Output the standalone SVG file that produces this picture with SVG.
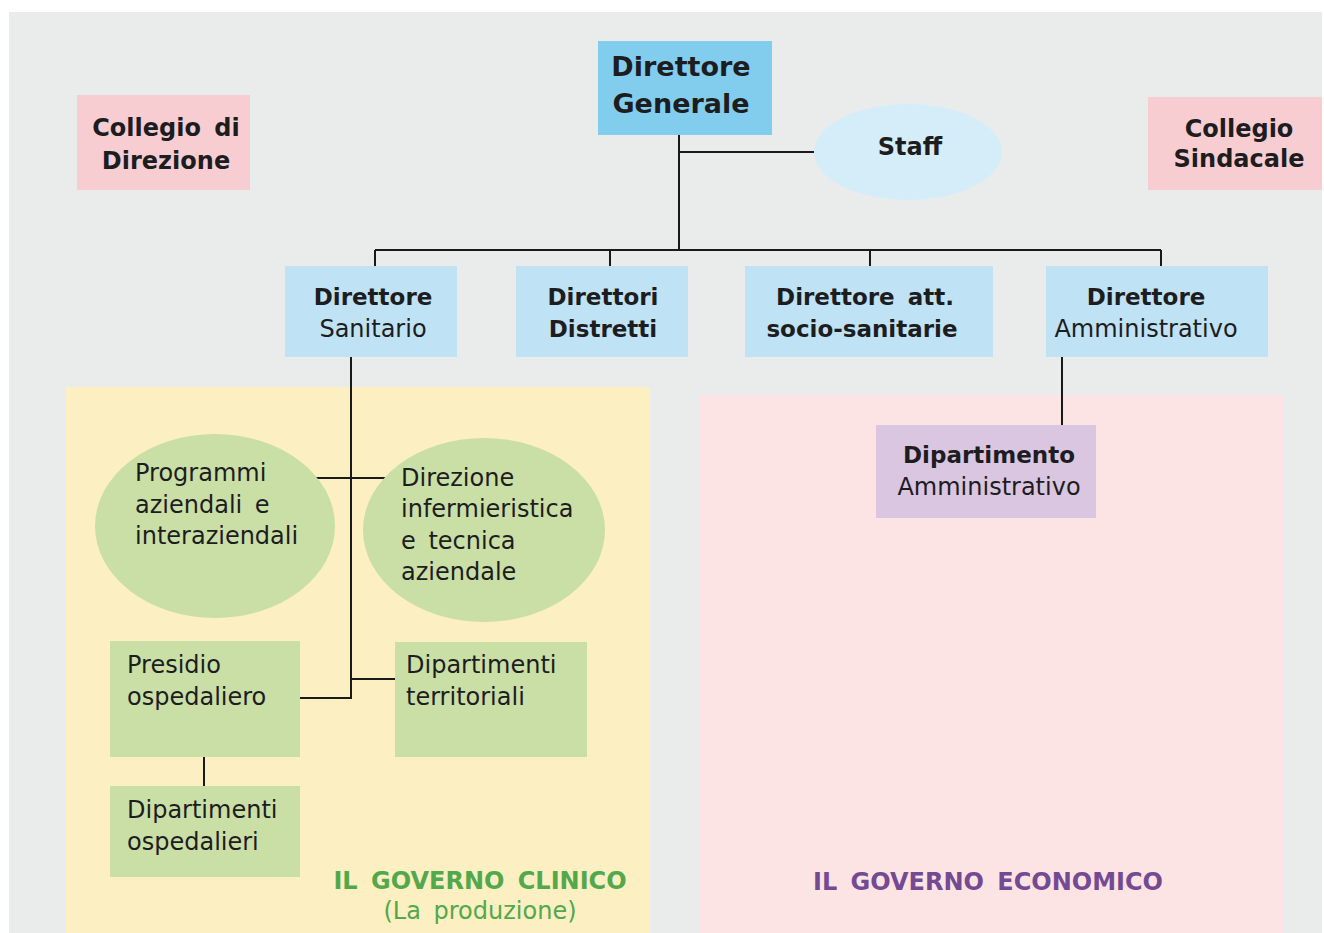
<svg xmlns="http://www.w3.org/2000/svg" width="1324" height="933" viewBox="0 0 1324 933">
<style>
text{font-family:"DejaVu Sans","Liberation Sans",sans-serif;fill:#1d1d1f;font-size:24px}
.b{font-weight:bold}
.c{text-anchor:middle}
.ws{word-spacing:5px}
.ln{stroke:#1a1a1a;stroke-width:2;fill:none}
.blue1{fill:#82cdee}
.blue2{fill:#bfe3f5}
.pink{fill:#f8cdd2}
.green{fill:#cadfa6}
</style>
<rect x="0" y="0" width="1324" height="933" fill="#ffffff"/>
<rect x="9" y="12" width="1313" height="921" fill="#eaeceb"/>
<g id="panel-clinico">
<rect x="66" y="387" width="584" height="546" fill="#fcefc2"/>
<text class="b c ws" x="480" y="889" style="fill:#52a84a">IL GOVERNO CLINICO</text>
<text class="c ws" x="480" y="919" style="fill:#52a84a">(La produzione)</text>
</g>
<g id="panel-economico">
<rect x="699" y="395" width="584" height="538" fill="#fde4e4"/>
<text class="b c ws" x="988" y="890" style="fill:#744a92">IL GOVERNO ECONOMICO</text>
</g>
<g id="connectors">
<path class="ln" d="M679 135V250M679 152H814M375 250H1161M375 250V266M610 250V266M870 250V266M1161 250V266"/>
<path class="ln" d="M351 357V698H300M351 679H395M314 478H388M1062 357V425M204 757V786"/>
</g>
<g id="collegio-direzione">
<rect x="77" y="95" width="173" height="95" class="pink"/>
<text class="b c ws" x="166" y="136">Collegio di</text>
<text class="b c" x="166" y="169">Direzione</text>
</g>
<g id="direttore-generale">
<rect x="598" y="41" width="174" height="94" class="blue1"/>
<text class="b c" x="681" y="76" style="font-size:27px">Direttore</text>
<text class="b c" x="681" y="113" style="font-size:27px">Generale</text>
</g>
<g id="staff">
<ellipse cx="908" cy="152" rx="94" ry="48" fill="#d5ecf9"/>
<text class="b c" x="910" y="155">Staff</text>
</g>
<g id="collegio-sindacale">
<rect x="1148" y="97" width="174" height="93" class="pink"/>
<text class="b c" x="1239" y="137">Collegio</text>
<text class="b c" x="1239" y="167">Sindacale</text>
</g>
<g id="direttore-sanitario">
<rect x="285" y="266" width="172" height="91" class="blue2"/>
<text class="b c" x="373" y="305" style="font-size:23px">Direttore</text>
<text class="c" x="373" y="337">Sanitario</text>
</g>
<g id="direttori-distretti">
<rect x="516" y="266" width="172" height="91" class="blue2"/>
<text class="b c" x="603" y="305" style="font-size:23px">Direttori</text>
<text class="b c" x="603" y="337" style="font-size:23px">Distretti</text>
</g>
<g id="direttore-att">
<rect x="745" y="266" width="248" height="91" class="blue2"/>
<text class="b c ws" x="865" y="305" style="font-size:23px">Direttore att.</text>
<text class="b c" x="862" y="337" style="font-size:23px">socio-sanitarie</text>
</g>
<g id="direttore-amministrativo">
<rect x="1046" y="266" width="222" height="91" class="blue2"/>
<text class="b c" x="1146" y="305" style="font-size:23px">Direttore</text>
<text class="c" x="1146" y="337">Amministrativo</text>
</g>
<g id="dipartimento-amministrativo">
<rect x="876" y="425" width="220" height="93" fill="#dac6e1"/>
<text class="b c" x="989" y="463" style="font-size:23px">Dipartimento</text>
<text class="c" x="989" y="495">Amministrativo</text>
</g>
<g id="programmi">
<ellipse cx="215" cy="526" rx="120" ry="92" class="green"/>
<text x="135" y="481">Programmi</text>
<text class="ws" x="135" y="513">aziendali e</text>
<text x="135" y="544">interaziendali</text>
</g>
<g id="direzione-infermieristica">
<ellipse cx="484" cy="530" rx="121" ry="92" class="green"/>
<text x="401" y="486">Direzione</text>
<text x="401" y="517">infermieristica</text>
<text class="ws" x="401" y="549">e tecnica</text>
<text x="401" y="580">aziendale</text>
</g>
<g id="presidio-ospedaliero">
<rect x="110" y="641" width="190" height="116" class="green"/>
<text x="127" y="673">Presidio</text>
<text x="127" y="705">ospedaliero</text>
</g>
<g id="dipartimenti-territoriali">
<rect x="395" y="642" width="192" height="115" class="green"/>
<text x="406" y="673">Dipartimenti</text>
<text x="406" y="705">territoriali</text>
</g>
<g id="dipartimenti-ospedalieri">
<rect x="110" y="786" width="190" height="91" class="green"/>
<text x="127" y="818">Dipartimenti</text>
<text x="127" y="850">ospedalieri</text>
</g>
</svg>
